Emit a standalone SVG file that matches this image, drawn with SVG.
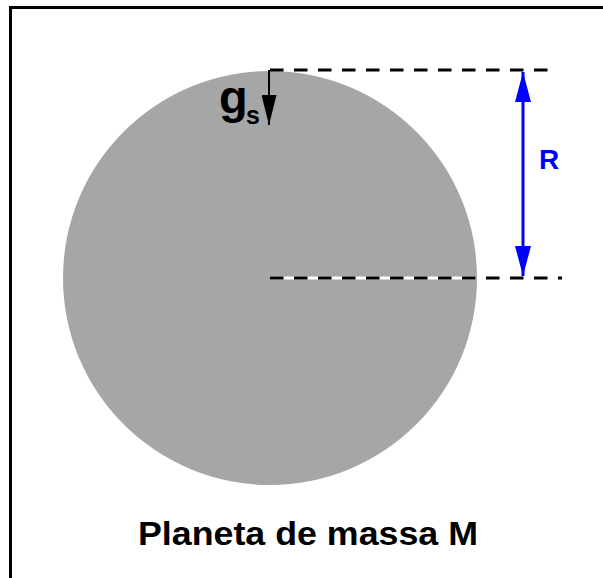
<svg xmlns="http://www.w3.org/2000/svg" width="603" height="578" viewBox="0 0 603 578">
<defs>
<style>
.lbl{font-family:"Liberation Sans",Arial,sans-serif;font-weight:bold}
.dash{stroke:#000;stroke-width:3;stroke-dasharray:13.5 10.5;fill:none}
</style>
<marker id="bh" viewBox="0 0 30 16" refX="30" refY="8" markerWidth="30" markerHeight="16" markerUnits="userSpaceOnUse" orient="auto-start-reverse">
<path d="M0,0 L30,8 L0,16 Z" fill="#0000FF"/>
</marker>
<marker id="kh" viewBox="0 0 30 15" refX="30" refY="7.5" markerWidth="30" markerHeight="15" markerUnits="userSpaceOnUse" orient="auto">
<path d="M0,0 L30,7.5 L0,15 Z" fill="#000"/>
</marker>
</defs>
<rect x="0" y="0" width="603" height="578" fill="#fff"/>
<rect x="10.5" y="7.5" width="620" height="600" fill="none" stroke="#000" stroke-width="3"/>
<g id="planet">
<circle cx="270" cy="278" r="207" fill="#A6A6A6"/>
</g>
<g id="connectors">
<line class="dash" x1="270" y1="70" x2="555" y2="70"/>
<line x1="270" y1="278" x2="476" y2="278" stroke="#fff" stroke-width="3"/>
<line class="dash" x1="270" y1="278" x2="562" y2="278"/>
<line x1="523" y1="72" x2="523" y2="276" stroke="#0000FF" stroke-width="3" marker-start="url(#bh)" marker-end="url(#bh)"/>
<line x1="269" y1="70" x2="269" y2="125" stroke="#000" stroke-width="2" marker-end="url(#kh)"/>
</g>
<g id="labels">
<text class="lbl" x="219" y="113" font-size="47" fill="#000">g</text>
<text class="lbl" x="246" y="124" font-size="25" fill="#000">s</text>
<text class="lbl" x="539" y="169" font-size="28" fill="#0000FF">R</text>
<text class="lbl" x="308" y="545" font-size="33" fill="#000" text-anchor="middle" textLength="340" lengthAdjust="spacingAndGlyphs">Planeta de massa M</text>
</g>
</svg>
